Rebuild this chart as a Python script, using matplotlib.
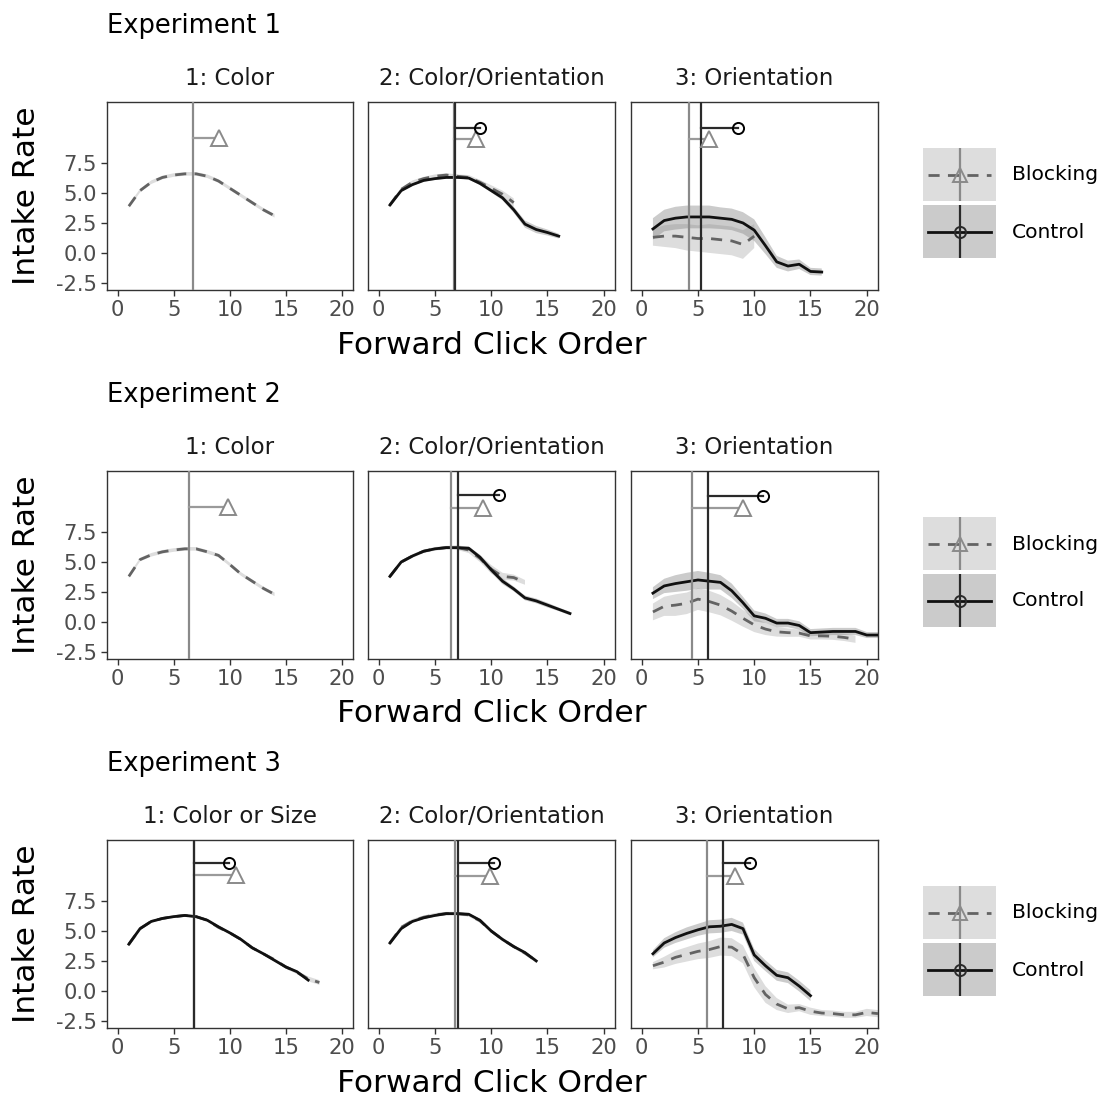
import matplotlib
matplotlib.use("Agg")
import matplotlib.pyplot as plt
import numpy as np

W, H = 1105, 1099

experiments = ["Experiment 1", "Experiment 2", "Experiment 3"]
panel_titles = [
    ["1: Color", "2: Color/Orientation", "3: Orientation"],
    ["1: Color", "2: Color/Orientation", "3: Orientation"],
    ["1: Color or Size", "2: Color/Orientation", "3: Orientation"],
]

# intake rate by forward click order (x = 1..n), with ribbon half-widths
blocking_mean = [
    [[3.9, 5.2, 5.9, 6.3, 6.5, 6.6, 6.6, 6.4, 6.0, 5.4, 4.8, 4.2, 3.6, 3.1],
     [4.0, 5.3, 5.9, 6.2, 6.4, 6.5, 6.4, 6.3, 5.9, 5.4, 4.9, 4.2],
     [1.3, 1.4, 1.4, 1.3, 1.2, 1.2, 1.1, 1.0, 0.7, 1.4]],
    [[3.8, 5.2, 5.6, 5.85, 6.0, 6.1, 6.1, 5.85, 5.55, 4.8, 4.0, 3.4, 2.8, 2.3],
     [3.8, 5.0, 5.5, 5.9, 6.1, 6.2, 6.2, 6.0, 5.3, 4.4, 3.8, 3.7, 3.3],
     [0.83, 1.3, 1.4, 1.55, 1.9, 1.7, 1.4, 0.9, 0.3, -0.25, -0.6, -0.83, -0.9,
      -0.94, -1.17, -1.17, -1.2, -1.3, -1.45]],
    [[3.9, 5.2, 5.8, 6.05, 6.2, 6.3, 6.2, 5.9, 5.3, 4.85, 4.3, 3.6, 3.1, 2.6,
      2.0, 1.55, 1.0, 0.7],
     [4.0, 5.3, 5.85, 6.15, 6.35, 6.45, 6.45, 6.35, 5.85, 5.0, 4.3, 3.7, 3.15, 2.5],
     [2.1, 2.4, 2.8, 3.05, 3.3, 3.45, 3.7, 3.65, 3.05, 1.1, -0.3, -1.1, -1.5,
      -1.4, -1.7, -1.85, -1.9, -2.0, -2.0, -1.8, -1.9]],
]
blocking_se = [
    [[0.15] * 14,
     [0.15, 0.15, 0.15, 0.15, 0.15, 0.15, 0.15, 0.2, 0.2, 0.25, 0.3, 0.35],
     [0.7, 0.9, 1.0, 1.1, 1.1, 1.2, 1.2, 1.2, 1.2, 1.0]],
    [[0.15] * 14,
     [0.15, 0.15, 0.15, 0.15, 0.15, 0.15, 0.2, 0.25, 0.3, 0.35, 0.3, 0.25, 0.2],
     [0.7, 0.8, 0.9, 0.9, 0.9, 0.9, 0.85, 0.8, 0.7, 0.6, 0.5, 0.4, 0.35, 0.3,
      0.3, 0.3, 0.3, 0.3, 0.3]],
    [[0.1, 0.1, 0.1, 0.1, 0.1, 0.1, 0.1, 0.1, 0.1, 0.1, 0.1, 0.1, 0.1, 0.1,
      0.15, 0.15, 0.2, 0.2],
     [0.15] * 14,
     [0.3, 0.45, 0.55, 0.6, 0.65, 0.7, 0.75, 0.75, 0.75, 0.8, 0.7, 0.5, 0.35,
      0.3, 0.3, 0.25, 0.25, 0.25, 0.25, 0.3, 0.3]],
]
control_mean = [
    [None,
     [4.0, 5.2, 5.7, 6.05, 6.2, 6.3, 6.3, 6.25, 5.8, 5.2, 4.6, 3.6, 2.4, 1.95, 1.7, 1.4],
     [2.0, 2.7, 2.9, 3.0, 3.0, 3.0, 2.9, 2.8, 2.5, 1.9, 0.6, -0.75, -1.1, -0.95,
      -1.55, -1.6]],
    [None,
     [3.8, 5.0, 5.5, 5.9, 6.1, 6.2, 6.2, 6.15, 5.4, 4.35, 3.4, 2.75, 2.0, 1.75,
      1.4, 1.05, 0.7],
     [2.4, 3.0, 3.2, 3.35, 3.5, 3.4, 3.3, 2.6, 1.6, 0.5, 0.3, -0.1, -0.1, -0.3,
      -0.9, -0.85, -0.8, -0.8, -0.8, -1.1, -1.1]],
    [[3.9, 5.2, 5.8, 6.05, 6.2, 6.3, 6.2, 5.9, 5.35, 4.85, 4.3, 3.6, 3.1, 2.55,
      2.0, 1.6, 0.9],
     [4.0, 5.2, 5.8, 6.1, 6.3, 6.45, 6.45, 6.4, 5.9, 5.0, 4.3, 3.7, 3.2, 2.5],
     [3.1, 4.0, 4.45, 4.8, 5.1, 5.35, 5.4, 5.55, 5.2, 3.0, 2.1, 1.3, 1.1, 0.4, -0.4]],
]
control_se = [
    [None,
     [0.1, 0.1, 0.1, 0.1, 0.1, 0.1, 0.1, 0.1, 0.15, 0.15, 0.2, 0.25, 0.3, 0.3, 0.25, 0.2],
     [0.9, 0.9, 0.95, 0.95, 0.95, 0.95, 0.9, 0.9, 0.9, 0.9, 0.7, 0.5, 0.45, 0.4, 0.3, 0.3]],
    [None,
     [0.1, 0.1, 0.1, 0.1, 0.1, 0.1, 0.1, 0.15, 0.2, 0.25, 0.25, 0.2, 0.2, 0.2, 0.2, 0.15, 0.15],
     [0.5, 0.6, 0.7, 0.75, 0.75, 0.7, 0.6, 0.6, 0.5, 0.45, 0.4, 0.35, 0.35, 0.35,
      0.3, 0.3, 0.3, 0.3, 0.3, 0.25, 0.25]],
    [[0.1] * 17,
     [0.1] * 14,
     [0.3, 0.4, 0.45, 0.5, 0.5, 0.55, 0.55, 0.55, 0.5, 0.5, 0.45, 0.45, 0.45, 0.45, 0.45]],
]

# mean click order (vertical line), marker position and height of the summary segment
blocking_vline = [[6.68, 6.7, 4.23], [6.39, 6.43, 4.44], [6.84, 6.79, 5.78]]
blocking_mark_x = [[9.0, 8.65, 6.0], [9.84, 9.23, 8.98], [10.58, 9.88, 8.3]]
blocking_mark_y = [[9.56, 9.53, 9.53], [9.58, 9.53, 9.53], [9.67, 9.6, 9.6]]
control_vline = [[None, 6.79, 5.24], [None, 7.08, 5.92], [6.84, 7.08, 7.26]]
control_mark_x = [[None, 9.03, 8.59], [None, 10.65, 10.76], [9.98, 10.27, 9.63]]
control_mark_y = [[None, 10.45, 10.45], [None, 10.56, 10.5], [10.64, 10.64, 10.64]]

x_ticks = [0, 5, 10, 15, 20]
y_ticks = [-2.5, 0.0, 2.5, 5.0, 7.5]

B_LINE = "#636363"
B_MARK = "#8a8a8a"
C_LINE = "#111111"
C_MARK = "#2a2a2a"
B_FILL = "#b4b4b4"
C_FILL = "#8c8c8c"
DASH = (0, (4, 3))

col_edges = [(107, 353), (368, 615), (631, 878)]
row_tops = [102, 471, 840]
panel_h = 188


def rect(x0, y0, x1, y1):
    return [x0 / W, 1 - y1 / H, (x1 - x0) / W, (y1 - y0) / H]


def draw_series(ax, mean, se, line_color, fill, ls):
    if mean is None:
        return
    x = np.arange(1, len(mean) + 1)
    m = np.array(mean)
    s = np.array(se)
    ax.fill_between(x, m - s, m + s, facecolor=fill, alpha=0.45, lw=0, zorder=1)
    ax.plot(x, m, color=line_color, lw=2.0, ls=ls, zorder=3)


fig = plt.figure(figsize=(W / 100, H / 100), dpi=100)

for r in range(3):
    top = row_tops[r]
    fig.text(107 / W, 1 - (top - 76) / H, experiments[r], fontsize=18.5,
             ha="left", va="center", color="black")
    for c in range(3):
        x0, x1 = col_edges[c]
        ax = fig.add_axes(rect(x0, top, x1, top + panel_h))
        draw_series(ax, blocking_mean[r][c], blocking_se[r][c], B_LINE, B_FILL, DASH)
        draw_series(ax, control_mean[r][c], control_se[r][c], C_LINE, C_FILL, "-")

        # summary lines: blocking first, control on top
        bv = blocking_vline[r][c]
        ax.axvline(bv, color=B_MARK, lw=1.6, zorder=4)
        ax.plot([bv, blocking_mark_x[r][c]], [blocking_mark_y[r][c]] * 2,
                color="#9a9a9a", lw=1.6, zorder=4)
        ax.plot(blocking_mark_x[r][c], blocking_mark_y[r][c], marker="^", ms=11,
                mfc="white", mec=B_MARK, mew=1.4, zorder=5)
        cv = control_vline[r][c]
        if cv is not None:
            ax.axvline(cv, color=C_MARK, lw=1.6, zorder=4)
            ax.plot([cv, control_mark_x[r][c]], [control_mark_y[r][c]] * 2,
                    color=C_MARK, lw=1.6, zorder=4)
            ax.plot(control_mark_x[r][c], control_mark_y[r][c], marker="o", ms=8,
                    mfc="none", mec="black", mew=1.4, zorder=5)

        ax.set_xlim(-0.95, 21.0)
        ax.set_ylim(-3.1, 12.6)
        ax.set_xticks(x_ticks)
        ax.tick_params(length=4.5, width=1, color="#333333", labelsize=15.2,
                       labelcolor="#4d4d4d", pad=3)
        if c == 0:
            ax.set_yticks(y_ticks)
            ax.set_yticklabels([f"{v:.1f}" for v in y_ticks])
        else:
            ax.set_yticks([])
        for sp in ax.spines.values():
            sp.set_color("#333333")
            sp.set_linewidth(1.0)
        ax.set_title(panel_titles[r][c], fontsize=16.5, pad=12, color="#1a1a1a")

    fig.text(491.5 / W, 1 - (top + 243) / H, "Forward Click Order", fontsize=22.5,
             ha="center", va="center")
    fig.text(27 / W, 1 - (top + 94) / H, "Intake Rate", fontsize=22.5,
             ha="center", va="center", rotation=90)

    # legend
    key_specs = [("Blocking", 46, B_FILL, B_LINE, B_MARK, DASH, "^", 10),
                 ("Control", 103, C_FILL, C_LINE, C_MARK, "-", "o", 8)]
    for label, off, fill, lc, mc, ls, mk, ms in key_specs:
        ky0 = top + off
        kax = fig.add_axes(rect(923, ky0, 996, ky0 + 53))
        kax.set_xlim(0, 1)
        kax.set_ylim(0, 1)
        kax.add_patch(plt.Rectangle((0, 0), 1, 1, facecolor=fill, alpha=0.45, lw=0))
        kax.plot([0.07, 0.93], [0.5, 0.5], color=lc, lw=2.0, ls=ls)
        kax.plot([0.5, 0.5], [0, 1], color=mc, lw=1.6)
        kax.plot(0.5, 0.5, marker=mk, ms=ms, mfc="none", mec=mc, mew=1.4)
        kax.axis("off")
        fig.text(1012 / W, 1 - (ky0 + 27) / H, label, fontsize=14.6,
                 ha="left", va="center")

fig.savefig("out.png", dpi=100)
